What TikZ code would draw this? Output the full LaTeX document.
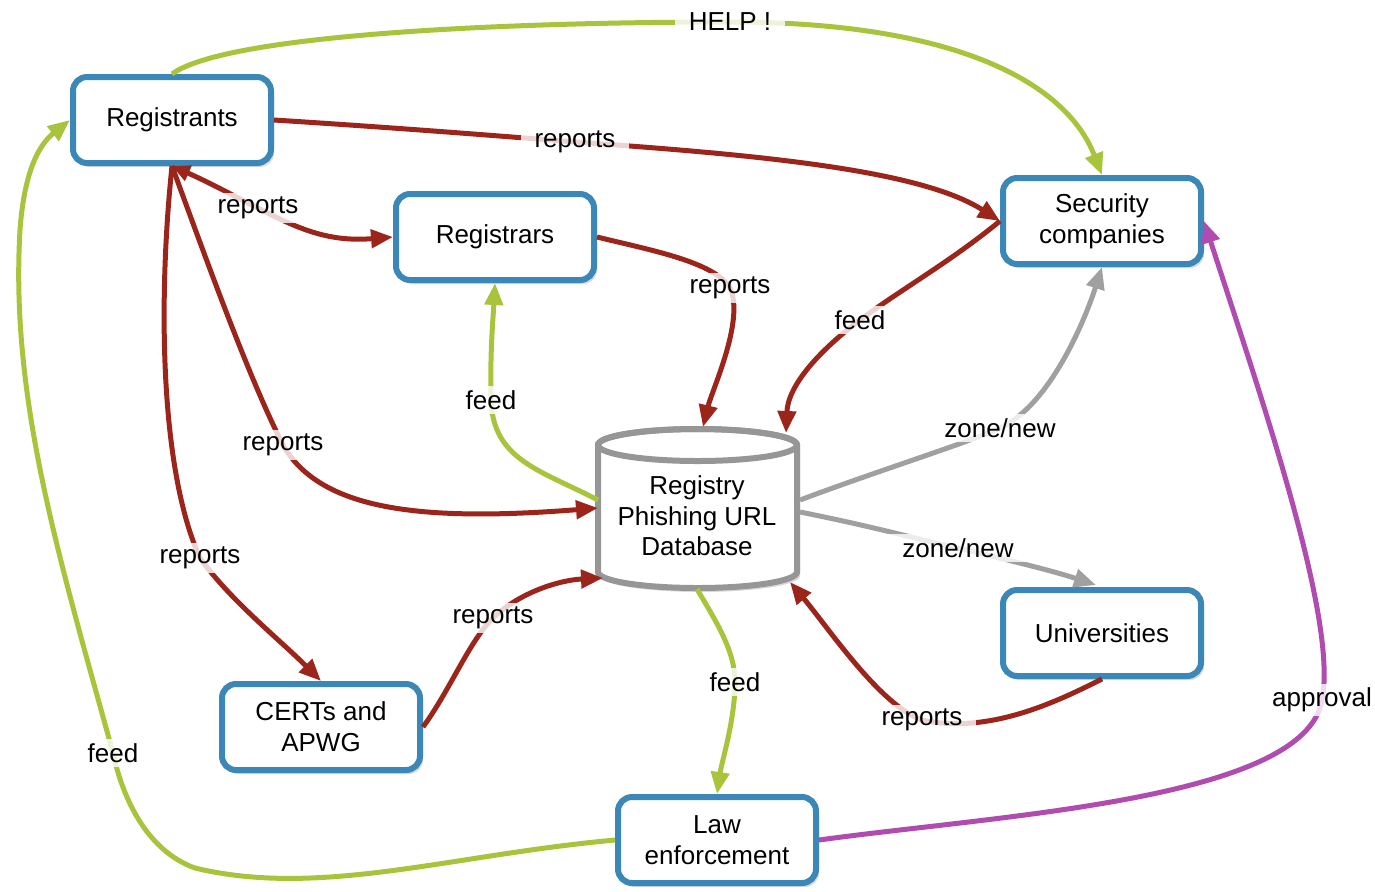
\documentclass[tikz,border=0pt]{standalone}
\usepackage{fontspec}
\setmainfont{Liberation Sans}
\usetikzlibrary{arrows.meta,shadows}
\definecolor{cred}{RGB}{156,37,27}
\definecolor{cgreen}{RGB}{168,196,60}
\definecolor{cgray}{RGB}{160,160,160}
\definecolor{cpurple}{RGB}{176,76,176}
\definecolor{cblue}{RGB}{58,135,184}
\definecolor{cdb}{RGB}{150,150,150}
\begin{document}
\begin{tikzpicture}[x=0.5pt,y=-0.5pt,
  box/.style={draw=cblue, line width=3pt, fill=white, rounded corners=7pt,
    minimum width=99pt, minimum height=43pt, align=center,
    font=\fontsize{13}{15.5}\selectfont,
    drop shadow={shadow xshift=1.5pt, shadow yshift=-2pt, opacity=0.3}},
  lbl/.style={fill=white, fill opacity=0.8, text opacity=1, inner xsep=7pt,
    inner ysep=2pt, font=\fontsize{13}{15.5}\selectfont},
  conn/.style={line width=2.5pt, -{Triangle[length=11pt,width=9pt]}},
  red/.style={conn, draw=cred},
  grn/.style={conn, draw=cgreen},
  gry/.style={conn, draw=cgray},
  pur/.style={conn, draw=cpurple}]
\useasboundingbox (0,0) rectangle (1375,891);

% boxes
\node[box] (reg) at (172,120) {Registrants};
\node[box] (regs) at (495,237) {Registrars};
\node[box] (sec) at (1102,221) {Security\\companies};
\node[box] (univ) at (1102,633) {Universities};
\node[box] (certs) at (321,727) {CERTs and\\APWG};
\node[box] (law) at (717,840) {Law\\enforcement};

% database cylinder
\path[fill=white, draw=cdb, line width=3pt,
  drop shadow={shadow xshift=1.5pt, shadow yshift=-2pt, opacity=0.3}]
  (598,445) -- (598,572) arc[start angle=180, end angle=360, x radius=49.75pt, y radius=8pt]
  -- (797,445) arc[start angle=0, end angle=180, x radius=49.75pt, y radius=8pt] -- cycle;
\draw[cdb, line width=3pt] (697.5,445) ellipse [x radius=49.75pt, y radius=8pt];
\node[align=center, font=\fontsize{13}{15.25}\selectfont] (db) at (697,516) {Registry\\Phishing URL\\Database};
\coordinate (dbT1) at (703,427);
\coordinate (dbT2) at (786,433);
\coordinate (dbL1) at (598,500);
\coordinate (dbL2) at (598,508);
\coordinate (dbBL) at (603,578);
\coordinate (dbR1) at (800,500);
\coordinate (dbR2) at (800,512);
\coordinate (dbB) at (697,589);
\coordinate (dbBR) at (790,582);

% connectors
\draw[grn] (reg.north) .. controls (225,35) and (500,22) .. (730,22) node[lbl] (l1) {HELP !}
  .. controls (950,22) and (1065,80) .. (sec.north);
\draw[red] (reg.east) .. controls (400,128) and (500,136) .. (575,142) node[lbl] (l2) {reports}
  .. controls (760,155) and (920,170) .. (sec.west);
\draw[red, {Triangle[length=9pt,width=8pt]}-{Triangle[length=11pt,width=9pt]}]
  (reg.south) .. controls (215,185) and (245,202) .. (258,208) node[lbl] (l3) {reports}
  .. controls (300,230) and (330,242) .. (regs.west);
\draw[red] (regs.east) .. controls (650,250) and (715,262) .. (730,288) node[lbl] (l4) {reports}
  .. controls (745,320) and (712,390) .. (dbT1);
\draw[red] (sec.west) .. controls (950,262) and (900,290) .. (860,320) node[lbl] (l5) {feed}
  .. controls (820,350) and (788,385) .. (dbT2);
\draw[grn] (dbL1) .. controls (540,470) and (493,460) .. (491,400) node[lbl] (l6) {feed}
  .. controls (490,350) and (493,320) .. (regs.south);
\draw[red] (reg.south) .. controls (210,270) and (250,380) .. (283,445) node[lbl] (l7) {reports}
  .. controls (320,510) and (420,522) .. (dbL2);
\draw[red] (reg.south) .. controls (158,300) and (160,470) .. (200,558) node[lbl] (l8) {reports}
  .. controls (230,600) and (280,640) .. (certs.north);
\draw[red] (certs.east) .. controls (450,690) and (470,640) .. (493,618) node[lbl] (l9) {reports}
  .. controls (520,592) and (560,580) .. (dbBL);
\draw[gry] (dbR1) .. controls (880,470) and (970,442) .. (1000,428) node[lbl] (l10) {zone/new}
  .. controls (1050,405) and (1085,320) .. (sec.south);
\draw[gry] (dbR2) .. controls (880,528) and (920,540) .. (958,548) node[lbl] (l11) {zone/new}
  .. controls (1000,558) and (1050,570) .. (1096,585);
\draw[grn] (dbB) .. controls (715,620) and (735,650) .. (735,682) node[lbl] (l12) {feed}
  .. controls (735,720) and (722,760) .. (law.north);
\draw[red] (univ.south) .. controls (1060,700) and (990,735) .. (922,720) node[lbl] (l13) {reports}
  .. controls (880,705) and (830,630) .. (dbBR);
\draw[grn] (law.west) .. controls (450,855) and (320,898) .. (195,868)
  .. controls (145,850) and (122,795) .. (113,753) node[lbl] (l14) {feed}
  .. controls (60,560) and (10,400) .. (20,230)
  .. controls (25,160) and (45,140) .. (reg.west);
\draw[pur] (law.east) .. controls (1000,815) and (1305,800) .. (1322,700) node[lbl] (l15) {approval}
  .. controls (1338,620) and (1262,400) .. (sec.east);
\end{tikzpicture}
\end{document}
